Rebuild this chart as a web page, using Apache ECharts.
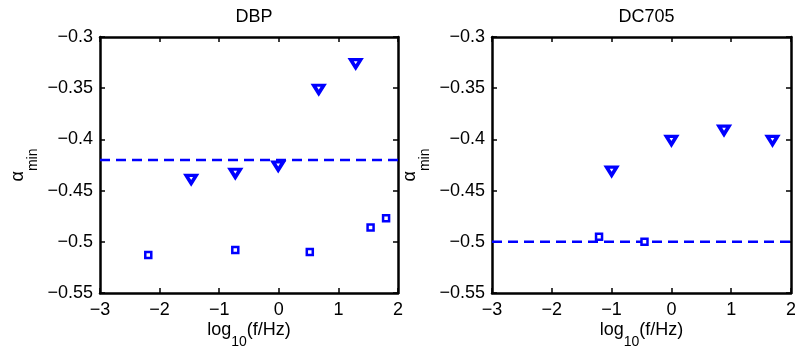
<!DOCTYPE html>
<html><head><meta charset="utf-8">
<script src="https://cdn.jsdelivr.net/npm/echarts@6/dist/echarts.min.js"></script>
<style>html,body{margin:0;padding:0;background:#fff}#c{width:795px;height:347px}</style>
</head><body><div id="c"></div>
<script>
// ---- data ----
const titles = ['DBP', 'DC705'];
const dbpTriX = [-1.47, -0.73, -0.01, 0.67, 1.29];
const dbpTriY = [-0.439, -0.433, -0.426, -0.351, -0.326];
const dbpSqX = [-2.19, -0.73, 0.52, 1.54, 1.80];
const dbpSqY = [-0.513, -0.508, -0.510, -0.486, -0.477];
const dbpRef = -0.42;
const dcTriX = [-1.0, 0.0, 0.88, 1.69];
const dcTriY = [-0.431, -0.401, -0.391, -0.401];
const dcSqX = [-1.21, -0.45];
const dcSqY = [-0.495, -0.500];
const dcRef = -0.50;
const xRange = [-3, 2];
const yRange = [-0.55, -0.3];
const xTicks = [-3, -2, -1, 0, 1, 2];
const yTicks = [-0.55, -0.5, -0.45, -0.4, -0.35, -0.3];

const BLUE = '#0000ff';
const FONT = 'Liberation Sans';
const fmt = v => { const r = Math.round(v * 1000) / 1000; return String(r).replace('-', '\u2212'); };
const zip = (a, b) => a.map((v, i) => [v, b[i]]);

const grids = [
  { left: 100, top: 37, width: 298, height: 256, outerBoundsMode: 'none', containLabel: false },
  { left: 492, top: 37, width: 299, height: 256, outerBoundsMode: 'none', containLabel: false }
];
const xAxes = [], yAxes = [], series = [];
const lineStyle = { color: '#000', width: 2.5 };
const tick = { inside: true, length: 5, lineStyle: { color: '#000', width: 1.5 } };
const richX = {
  a: { fontSize: 18, fontFamily: FONT, color: '#000', verticalAlign: 'top', lineHeight: 20 },
  s: { fontSize: 14, fontFamily: FONT, color: '#000', verticalAlign: 'bottom', lineHeight: 28 }
};
const richY = {
  a: { fontSize: 18, fontFamily: FONT, color: '#000', verticalAlign: 'top', lineHeight: 20 },
  s: { fontSize: 14, fontFamily: FONT, color: '#000', verticalAlign: 'bottom', lineHeight: 31 }
};
grids.forEach((g, i) => {
  xAxes.push({
    gridIndex: i, type: 'value', min: xRange[0], max: xRange[1], interval: 1, position: 'bottom',
    axisLine: { onZero: false, lineStyle }, axisTick: tick, splitLine: { show: false },
    axisLabel: { color: '#000', fontFamily: FONT, fontSize: 18, margin: 8, formatter: fmt },
    name: '{a|log}{s|10}{a|(f/Hz)}', nameLocation: 'middle', nameGap: 28, nameMoveOverlap: false,
    nameTextStyle: { color: '#000', fontFamily: FONT, rich: richX }
  });
  xAxes.push({
    gridIndex: i, type: 'value', min: xRange[0], max: xRange[1], interval: 1, position: 'top',
    axisLine: { onZero: false, lineStyle }, axisTick: tick, splitLine: { show: false }, axisLabel: { show: false }
  });
  yAxes.push({
    gridIndex: i, type: 'value', min: yRange[0], max: yRange[1], interval: 0.05, position: 'left',
    axisLine: { onZero: false, lineStyle }, axisTick: tick, splitLine: { show: false },
    axisLabel: { color: '#000', fontFamily: FONT, fontSize: 18, margin: 7, formatter: fmt },
    name: '{a|\u03b1}{s|min}', nameLocation: 'middle', nameRotate: 90, nameGap: 60,
    nameTextStyle: { color: '#000', fontFamily: FONT, rich: richY }
  });
  yAxes.push({
    gridIndex: i, type: 'value', min: yRange[0], max: yRange[1], interval: 0.05, position: 'right',
    axisLine: { onZero: false, lineStyle }, axisTick: tick, splitLine: { show: false }, axisLabel: { show: false }
  });
});

function addPanel(i, triX, triY, sqX, sqY, ref) {
  series.push({
    type: 'line', xAxisIndex: 2 * i, yAxisIndex: 2 * i, data: [[xRange[0], ref], [xRange[1], ref]],
    showSymbol: false, symbol: 'none', lineStyle: { color: BLUE, width: 2.5, type: [10, 6] }, silent: true, z: 1
  });
  series.push({
    type: 'scatter', xAxisIndex: 2 * i, yAxisIndex: 2 * i, data: zip(triX, triY),
    symbol: 'triangle', symbolRotate: 180, symbolSize: [10, 8],
    itemStyle: { color: '#fff', borderColor: BLUE, borderWidth: 3.5, opacity: 1 }, z: 3
  });
  series.push({
    type: 'scatter', xAxisIndex: 2 * i, yAxisIndex: 2 * i, data: zip(sqX, sqY),
    symbol: 'rect', symbolSize: 6,
    itemStyle: { color: '#fff', borderColor: BLUE, borderWidth: 2.5, opacity: 1 }, z: 3
  });
}
addPanel(0, dbpTriX, dbpTriY, dbpSqX, dbpSqY, dbpRef);
addPanel(1, dcTriX, dcTriY, dcSqX, dcSqY, dcRef);

const chart = echarts.init(document.getElementById('c'), null, { renderer: 'canvas' });
chart.setOption({
  animation: false,
  title: titles.map((t, i) => ({
    text: t, left: grids[i].left + grids[i].width / 2, top: 3, textAlign: 'center',
    textStyle: { color: '#000', fontFamily: FONT, fontSize: 18, fontWeight: 'normal' }
  })),
  grid: grids, xAxis: xAxes, yAxis: yAxes, series
});
</script></body></html>
